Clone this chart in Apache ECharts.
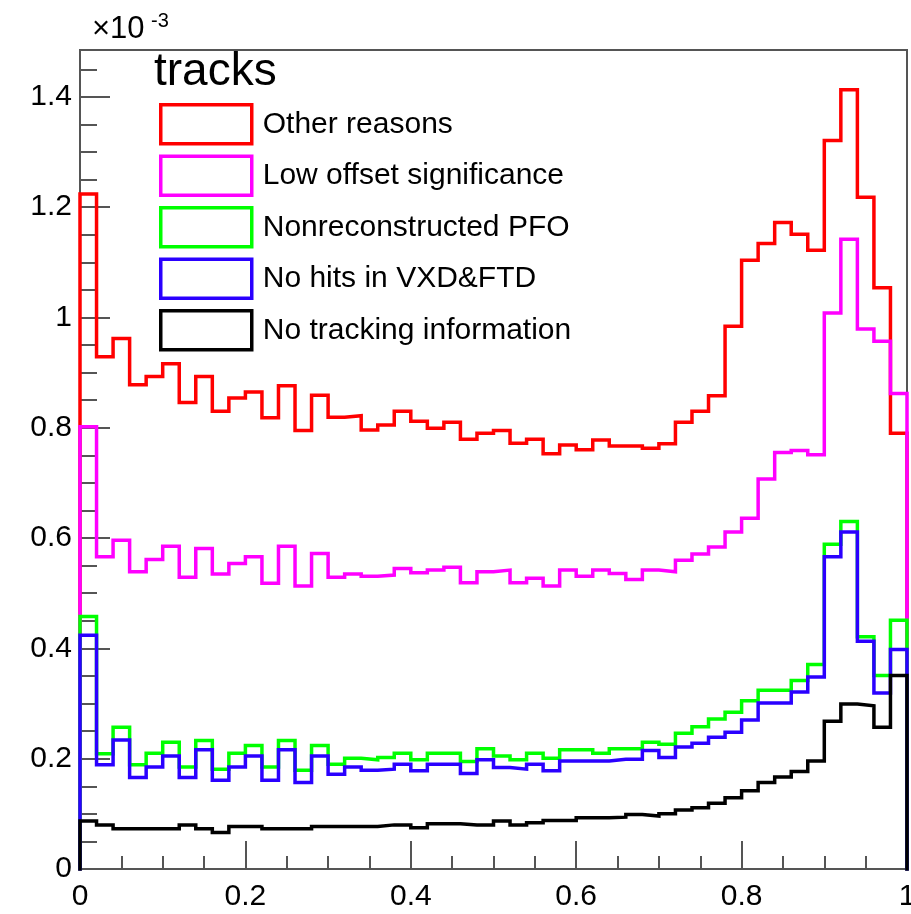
<!DOCTYPE html>
<html><head><meta charset="utf-8">
<script src="https://cdn.jsdelivr.net/npm/echarts@6/dist/echarts.min.js"></script>
<style>html,body{margin:0;padding:0;background:#fff;overflow:hidden}#c{width:911px;height:914px}</style>
</head><body><div id="c"></div>
<script>
// histogram range and binning (x axis)
const binLow = 0, binHigh = 1;
// legend / series names
const seriesNames = ['Other reasons','Low offset significance','Nonreconstructed PFO','No hits in VXD&FTD','No tracking information'];
// bin contents in units of 1e-3 (50 bins, 0..1)
const otherReasons = [1.224,0.929,0.962,0.878,0.893,0.916,0.846,0.893,0.830,0.854,
 0.865,0.818,0.876,0.795,0.859,0.819,0.822,0.796,0.805,0.830,
 0.812,0.799,0.810,0.779,0.790,0.795,0.772,0.779,0.753,0.769,
 0.760,0.778,0.767,0.767,0.763,0.771,0.810,0.830,0.858,0.984,
 1.104,1.134,1.172,1.151,1.122,1.321,1.413,1.218,1.054,0.790];
const lowOffset = [0.802,0.566,0.596,0.539,0.561,0.585,0.529,0.581,0.535,0.554,
 0.566,0.518,0.585,0.513,0.572,0.529,0.535,0.531,0.533,0.545,
 0.537,0.542,0.547,0.519,0.539,0.542,0.519,0.527,0.513,0.542,
 0.531,0.542,0.536,0.525,0.542,0.539,0.560,0.571,0.584,0.611,
 0.636,0.707,0.755,0.759,0.751,1.008,1.142,0.979,0.957,0.862];
const nonReco = [0.458,0.209,0.257,0.189,0.210,0.230,0.185,0.233,0.181,0.210,
 0.224,0.185,0.233,0.179,0.224,0.190,0.201,0.198,0.202,0.210,
 0.198,0.210,0.210,0.195,0.218,0.205,0.198,0.210,0.201,0.216,
 0.216,0.210,0.218,0.218,0.230,0.226,0.246,0.258,0.272,0.284,
 0.305,0.324,0.324,0.342,0.371,0.589,0.630,0.421,0.351,0.451];
const noHits = [0.424,0.189,0.234,0.166,0.185,0.205,0.166,0.216,0.161,0.185,
 0.205,0.161,0.216,0.157,0.205,0.172,0.185,0.179,0.181,0.190,
 0.178,0.190,0.190,0.173,0.198,0.184,0.181,0.190,0.178,0.196,
 0.196,0.196,0.199,0.199,0.215,0.202,0.221,0.228,0.239,0.248,
 0.270,0.301,0.301,0.321,0.348,0.566,0.611,0.413,0.319,0.398];
const noTrack = [0.087,0.080,0.073,0.073,0.073,0.073,0.080,0.073,0.066,0.077,
 0.077,0.073,0.073,0.073,0.077,0.077,0.077,0.077,0.080,0.080,
 0.075,0.082,0.082,0.080,0.080,0.087,0.080,0.084,0.088,0.088,
 0.093,0.093,0.094,0.099,0.096,0.100,0.107,0.111,0.119,0.129,
 0.142,0.157,0.167,0.177,0.196,0.268,0.299,0.296,0.257,0.351];
// axis ticks
const yMajorTicks = [0,0.2,0.4,0.6,0.8,1,1.2,1.4];
const yMinorTicks = [0.05,0.1,0.15,0.25,0.3,0.35,0.45,0.5,0.55,0.65,0.7,0.75,0.85,0.9,0.95,1.05,1.1,1.15,1.25,1.3,1.35,1.45];
const xMajorTicks = [0,0.2,0.4,0.6,0.8,1];

const colors = ['#ff0000','#ff00ff','#00ff00','#2a00ff','#000000'];
const allValues = [otherReasons, lowOffset, nonReco, noHits, noTrack];
const FONT = '"Liberation Sans", Arial, Helvetica, sans-serif';
const axisCol = '#555555';

function histPoints(vals){
  const w = (binHigh - binLow) / vals.length;
  const pts = [[binLow, 0]];
  vals.forEach((v, i) => pts.push([binLow + i * w, v]));
  pts.push([binHigh, vals[vals.length - 1]]);
  pts.push([binHigh, 0]);
  return pts;
}

const chart = echarts.init(document.getElementById('c'), null, {renderer: 'canvas'});
const yMax = 1.485;
chart.setOption({
  animation: false,
  backgroundColor: '#ffffff',
  textStyle: {fontFamily: FONT},
  grid: {left: 80, top: 50, width: 827, height: 819, show: true, borderColor: axisCol, borderWidth: 2, backgroundColor: 'transparent', containLabel: false, outerBoundsMode: 'none'},
  title: {text: 'tracks', left: 154, top: 49, padding: 0, textStyle: {fontSize: 46, fontWeight: 'normal', color: '#000', fontFamily: FONT}},
  legend: {
    orient: 'vertical', left: 159, top: 103, padding: 0,
    itemWidth: 91, itemHeight: 39, itemGap: 9,
    textStyle: {fontSize: 30, color: '#000', fontFamily: FONT, padding: [0, 0, 0, 6]},
    data: seriesNames.map((n, i) => ({name: n, icon: 'rect', itemStyle: {color: '#ffffff', borderColor: colors[i], borderWidth: 3.5}}))
  },
  xAxis: {
    type: 'value', min: binLow, max: binHigh, interval: 0.2,
    axisLine: {show: true, lineStyle: {color: axisCol, width: 2}},
    axisTick: {show: true, inside: true, length: 28, lineStyle: {color: axisCol, width: 2}},
    minorTick: {show: true, splitNumber: 4, length: 13, lineStyle: {color: axisCol, width: 2}},
    axisLabel: {fontSize: 30, color: '#000', margin: 13, fontFamily: FONT, customValues: xMajorTicks},
    splitLine: {show: false}
  },
  yAxis: [{
    type: 'value', min: 0, max: yMax, position: 'left',
    axisLine: {show: true, lineStyle: {color: axisCol, width: 2}},
    axisTick: {show: true, inside: true, length: 30, customValues: yMajorTicks, lineStyle: {color: axisCol, width: 2}},
    axisLabel: {fontSize: 30, color: '#000', margin: 8, fontFamily: FONT, customValues: yMajorTicks},
    splitLine: {show: false}
  }, {
    type: 'value', min: 0, max: yMax, position: 'left',
    axisLine: {show: false},
    axisTick: {show: true, inside: true, length: 17, customValues: yMinorTicks, lineStyle: {color: axisCol, width: 2}},
    axisLabel: {show: false},
    splitLine: {show: false}
  }],
  graphic: [
    {type: 'text', left: 92, top: 14, style: {text: '×10', fontSize: 31, fill: '#000', fontFamily: FONT}},
    {type: 'text', left: 151, top: 11, style: {text: '-3', fontSize: 20, fill: '#000', fontFamily: FONT}}
  ],
  series: allValues.map((vals, i) => ({
    name: seriesNames[i], type: 'line', step: 'end', yAxisIndex: 0,
    symbol: 'none', showSymbol: false,
    lineStyle: {color: colors[i], width: 3.5, join: 'miter', cap: 'square'},
    itemStyle: {color: colors[i]},
    data: histPoints(vals)
  }))
});
</script></body></html>
